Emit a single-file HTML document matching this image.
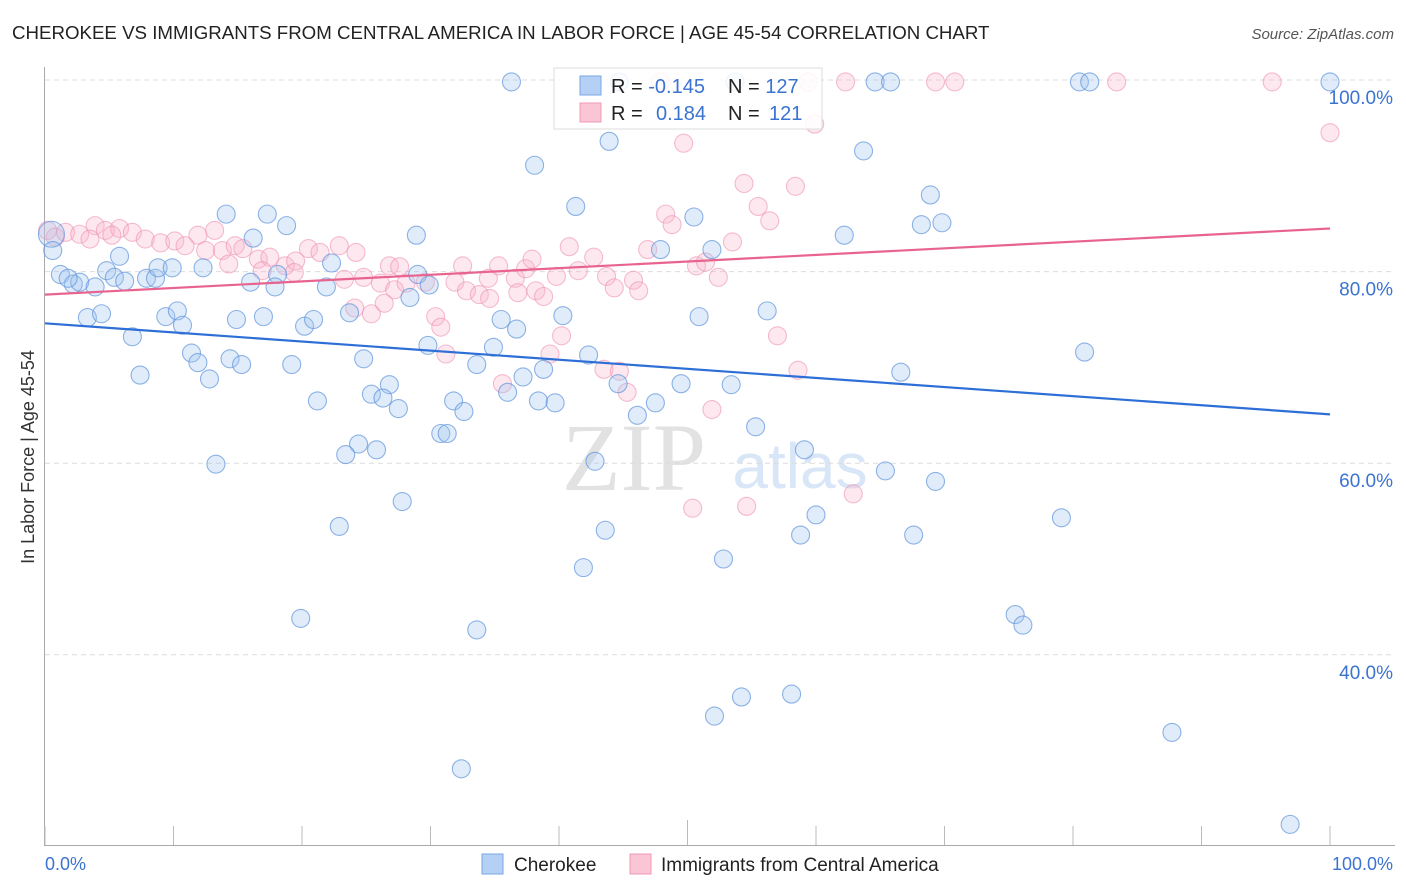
<!DOCTYPE html>
<html><head><meta charset="utf-8">
<style>
body{margin:0;background:#fff;font-family:"Liberation Sans",sans-serif;}
#wrap{position:relative;width:1406px;height:892px;overflow:hidden;}
</style></head>
<body><div id="wrap">
<svg id="chart" width="1406" height="892" xmlns="http://www.w3.org/2000/svg">
<text x="12" y="39" font-size="18.7" fill="#222">CHEROKEE VS IMMIGRANTS FROM CENTRAL AMERICA IN LABOR FORCE | AGE 45-54 CORRELATION CHART</text>
<text x="1394" y="39" font-size="15" fill="#555" font-style="italic" text-anchor="end">Source: ZipAtlas.com</text>
<text x="634" y="490" font-size="96" fill="#e2e2e2" font-family="Liberation Serif,serif" text-anchor="middle">ZIP</text>
<text x="800" y="488" font-size="64" fill="#d8e6f7" text-anchor="middle">atlas</text>
<g id="grid"></g><g id="axes"></g>
<g id="pink"></g><g id="blue"></g><g id="trends"></g>
<text transform="translate(34,457) rotate(-90)" font-size="18" fill="#333" text-anchor="middle">In Labor Force | Age 45-54</text>
<text x="45" y="870" font-size="18" fill="#3b73d1">0.0%</text>
<text x="1393" y="870" font-size="18" fill="#3b73d1" text-anchor="end">100.0%</text>
<g>
<rect x="554" y="68" width="268" height="61" fill="#fff" fill-opacity="0.85" stroke="#ddd"/>
<rect x="580" y="76" width="21" height="19" fill="#b5d0f5" stroke="#7aa6e6"/>
<rect x="580" y="103" width="21" height="19" fill="#fac6d5" stroke="#f09ab5"/>
<text x="611" y="93" font-size="20" fill="#222">R = <tspan fill="#3b73d1">-0.145</tspan></text>
<text x="728" y="93" font-size="20" fill="#222">N = <tspan fill="#3b73d1">127</tspan></text>
<text x="611" y="120" font-size="20" fill="#222">R = <tspan fill="#3b73d1" x="656">0.184</tspan></text>
<text x="728" y="120" font-size="20" fill="#222">N = <tspan fill="#3b73d1" x="769">121</tspan></text>
</g>
<g>
<rect x="482" y="854" width="21" height="20" fill="#b5d0f5" stroke="#7aa6e6"/>
<text x="514" y="871" font-size="19" fill="#222">Cherokee</text>
<rect x="630" y="854" width="21" height="20" fill="#fac6d5" stroke="#f09ab5"/>
<text x="661" y="871" font-size="19" fill="#222">Immigrants from Central America</text>
</g>
</svg>
<script>
const yTicks=[100,80,60,40];
const yTickLabels=["100.0%","80.0%","60.0%","40.0%"];
const xTicks=[0,10,20,30,40,50,60,70,80,90,100];
const blueX=[36.3,44.7,53.7,64.6,65.8,80.5,81.3,100,38.1,43.9,63.7,41.3,68.9,14.1,17.3,18.8,16.2,50.5,68.2,69.8,28.9,62.2,0.5,0.6,5.8,47.9,51.9,1.2,2.2,2.7,3.9,1.8,4.8,5.4,6.2,7.9,8.6,8.8,9.9,12.3,16.0,18.1,17.9,22.3,21.9,29.0,29.9,28.4,3.3,4.4,9.4,10.3,10.7,14.9,17.0,20.2,20.9,23.7,35.5,36.7,40.3,50.9,56.2,6.8,11.4,11.9,14.4,15.3,12.8,19.2,7.4,24.8,29.8,34.9,33.6,42.3,38.8,37.2,26.8,25.4,26.3,27.5,21.2,31.8,32.6,36.0,38.4,39.7,44.6,47.5,46.1,49.5,53.4,66.6,80.9,30.8,31.3,24.4,23.4,25.8,13.3,42.8,55.3,59.1,65.4,69.3,27.8,22.9,43.6,60.0,58.8,67.6,79.1,52.8,41.9,19.9,33.6,75.5,76.1,54.2,58.1,52.1,87.7,32.4,96.9];
const blueY=[99.8,99.8,99.8,99.8,99.8,99.8,99.8,99.8,91.1,93.6,92.6,86.8,88.0,86.0,86.0,84.8,83.5,85.7,84.9,85.1,83.8,83.8,83.9,82.2,81.6,82.3,82.3,79.7,78.7,78.9,78.4,79.3,80.1,79.4,79.0,79.3,79.3,80.4,80.4,80.4,78.9,79.7,78.4,80.9,78.4,79.7,78.6,77.3,75.2,75.6,75.3,75.9,74.4,75.0,75.3,74.3,75.0,75.7,75.0,74.0,75.4,75.3,75.9,73.2,71.5,70.5,70.9,70.3,68.8,70.3,69.2,70.9,72.3,72.1,70.3,71.3,69.8,69.0,68.2,67.2,66.8,65.7,66.5,66.5,65.4,67.4,66.5,66.3,68.3,66.3,65.0,68.3,68.2,69.5,71.6,63.1,63.1,62.0,60.9,61.4,59.9,60.2,63.8,61.4,59.2,58.1,56.0,53.4,53.0,54.6,52.5,52.5,54.3,50.0,49.1,43.8,42.6,44.2,43.1,35.6,35.9,33.6,31.9,28.1,22.3];
const pinkX=[0.2,0.8,1.6,2.7,3.9,4.7,5.8,6.8,3.5,5.2,7.8,9.0,10.1,11.9,13.2,10.9,12.5,13.8,14.8,15.4,16.6,17.5,18.7,19.5,20.5,21.4,22.9,24.2,14.3,16.9,19.4,23.3,24.8,26.1,27.2,28.1,26.8,27.6,25.4,24.1,26.4,29.6,30.4,30.8,31.2,32.5,31.9,32.8,33.8,34.6,34.5,35.3,36.6,37.4,37.9,36.8,38.2,38.8,39.8,40.8,41.5,42.7,43.7,44.3,45.8,46.2,39.3,40.2,35.6,43.5,44.7,45.3,46.9,48.3,48.8,49.7,50.7,51.4,52.4,53.5,54.4,55.5,56.4,58.4,59.9,57.0,58.6,51.9,50.4,54.6,62.9,100,47.9,59.4,62.3,69.3,70.8,83.4,95.5];
const pinkY=[84.3,83.6,84.1,83.9,84.8,84.3,84.5,84.1,83.4,83.8,83.4,83.0,83.2,83.8,84.3,82.7,82.2,82.2,82.7,82.4,81.3,81.5,80.6,81.1,82.4,82.0,82.7,82.0,80.8,80.1,79.9,79.2,79.4,78.8,78.1,78.8,80.6,80.5,75.6,76.2,76.7,78.9,75.3,74.2,71.4,80.6,78.9,78.0,77.6,77.2,79.3,80.6,79.3,80.3,81.3,77.8,78.0,77.4,79.5,82.6,80.1,81.5,79.5,78.3,79.1,78.0,71.4,73.3,68.3,69.8,69.6,67.4,82.3,86.0,84.9,93.4,80.6,81.0,79.4,83.1,89.2,86.8,85.3,88.9,95.4,73.3,69.7,65.6,55.3,55.5,56.8,94.5,99.8,99.8,99.8,99.8,99.8,99.8,99.8];
const blueTrend=[74.6,65.1];
const pinkTrend=[77.6,84.5];
const NS="http://www.w3.org/2000/svg";
function xs(v){return 45+v*12.85;}
function ys(v){return 80+(100-v)*9.58;}
function mk(tag,attrs,parent){const e=document.createElementNS(NS,tag);for(const k in attrs)e.setAttribute(k,attrs[k]);parent.appendChild(e);return e;}
const grid=document.getElementById('grid'),axes=document.getElementById('axes');
yTicks.forEach((t,i)=>{
 const l=mk('line',{x1:45,x2:1395,y1:ys(t),y2:ys(t),stroke:'#dcdcdc','stroke-dasharray':'5,4'},grid);
 
 
 const tx=mk('text',{x:1393,y:ys(t)+24,'font-size':19,fill:'#3b73d1','text-anchor':'end'},grid);
 tx.textContent=yTickLabels[i];
 
 
});
const ya=mk('line',{x1:44.5,x2:44.5,y1:67,y2:845,stroke:'#aaa'},axes);


const xa=mk('line',{x1:44,x2:1395,y1:845.5,y2:845.5,stroke:'#aaa'},axes);


xTicks.forEach(t=>{
 const l=mk('line',{x1:xs(t),x2:xs(t),y1:t===50?820:826,y2:845,stroke:'#bbb'},axes);
 
 
});
function pts(X,Y,g,fill,stroke,name,bigIdx){
 X.forEach((x,i)=>{
  const c=mk('circle',{cx:xs(x),cy:ys(Y[i]),r:i===bigIdx?13:9,fill:fill,stroke:stroke,'stroke-width':1.1},g);
  
  
 });
}
pts(pinkX,pinkY,document.getElementById('pink'),'rgba(248,180,202,0.3)','rgba(238,145,178,0.6)','immigrants-point',-1);
pts(blueX,blueY,document.getElementById('blue'),'rgba(160,196,240,0.32)','rgba(95,148,220,0.7)','cherokee-point',22);
const tr=document.getElementById('trends');
const bl=mk('line',{x1:xs(0),y1:ys(blueTrend[0]),x2:xs(100),y2:ys(blueTrend[1]),stroke:'#2d6fd6','stroke-width':2.2},tr);


const pl=mk('line',{x1:xs(0),y1:ys(pinkTrend[0]),x2:xs(100),y2:ys(pinkTrend[1]),stroke:'#e8648e','stroke-width':2.2},tr);


</script>
</div></body></html>
